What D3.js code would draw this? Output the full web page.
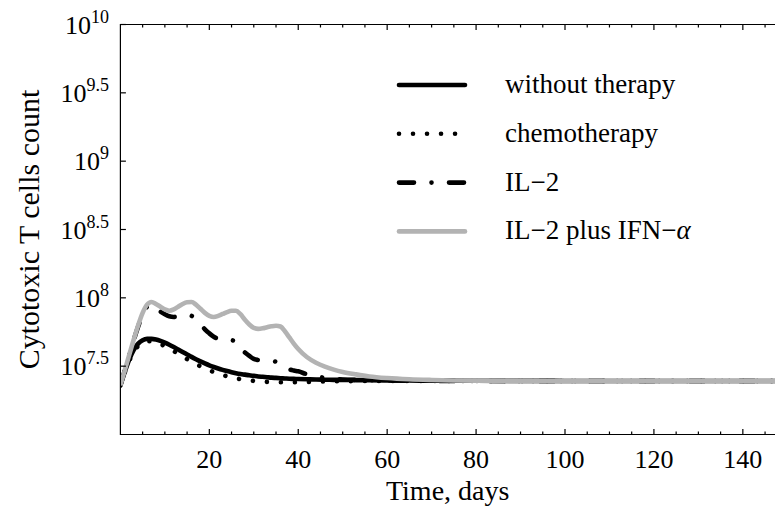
<!DOCTYPE html>
<html>
<head>
<meta charset="utf-8">
<script src="https://cdn.jsdelivr.net/npm/d3@7"></script>
<style>
  html, body { margin: 0; padding: 0; background: #fff; }
  svg { display: block; font-family: "Liberation Serif", "DejaVu Serif", serif; }
</style>
</head>
<body>
<div id="chart"></div>
<script>
// time axis (days) shared by all series
const days = [0,1,2,3,4,5,6,7,8,9,10,11,12,13,14,15,16,17,18,19,20,21,22,23,24,25,26,27,28,29,30,
  31,32,33,34,35,36,37,38,39,40,42,44,46,48,50,53,56,60,65,70,80,100,120,150];

// values are log10 of the cytotoxic T cell count
const withoutTherapy = [7.36,7.46,7.55,7.62,7.665,7.69,7.70,7.70,7.695,7.685,7.672,7.657,7.64,7.622,7.604,7.586,
  7.568,7.551,7.535,7.52,7.506,7.494,7.483,7.473,7.464,7.456,7.449,7.443,7.438,7.433,7.429,
  7.425,7.422,7.419,7.416,7.414,7.412,7.41,7.408,7.407,7.406,7.404,7.402,7.401,7.4,7.399,7.398,7.397,7.396,7.395,7.394,7.393,7.392,7.392,7.392];
const chemotherapy = [7.36,7.455,7.54,7.605,7.648,7.672,7.683,7.683,7.675,7.662,7.646,7.628,7.61,7.59,7.57,7.551,
  7.533,7.515,7.499,7.484,7.47,7.457,7.445,7.435,7.426,7.418,7.411,7.405,7.4,7.396,7.392,
  7.389,7.387,7.385,7.384,7.383,7.382,7.382,7.382,7.382,7.383,7.384,7.386,7.388,7.389,7.39,7.391,7.392,7.392,7.392,7.392,7.392,7.392,7.392,7.392];
const il2 = [7.36,7.47,7.58,7.69,7.79,7.88,7.935,7.95,7.925,7.9,7.88,7.865,7.86,7.865,7.872,7.875,
  7.868,7.84,7.805,7.77,7.74,7.715,7.70,7.695,7.692,7.69,7.68,7.63,7.6,7.575,7.553,
  7.545,7.541,7.539,7.538,7.532,7.515,7.495,7.477,7.468,7.462,7.44,7.425,7.415,7.408,7.403,7.399,7.397,7.395,7.394,7.393,7.392,7.392,7.392,7.392];
const il2IfnAlpha = [7.36,7.47,7.585,7.695,7.80,7.89,7.95,7.97,7.955,7.935,7.915,7.905,7.915,7.935,7.955,7.968,
  7.97,7.95,7.92,7.89,7.868,7.86,7.868,7.882,7.896,7.905,7.906,7.88,7.84,7.805,7.78,
  7.773,7.777,7.785,7.792,7.796,7.79,7.755,7.71,7.665,7.625,7.565,7.525,7.497,7.475,7.458,7.44,7.425,7.413,7.404,7.399,7.394,7.392,7.392,7.392];

const yTickExps = ['7.5', '8', '8.5', '9', '9.5', '10'];
const xTickDays = [20, 40, 60, 80, 100, 120, 140];

const width = 775, height = 512;
const plotLeft = 120.4, plotTop = 24.5, plotBottom = 434.5;

const x = d3.scaleLinear().domain([0, 150]).range([plotLeft, plotLeft + 150 * 4.446]);
const y = d3.scaleLog().domain([1e7, 1e10]).range([plotBottom, plotTop]);

const svg = d3.select('#chart').append('svg')
  .attr('width', width).attr('height', height);

svg.append('clipPath').attr('id', 'plot-clip')
  .append('rect').attr('x', plotLeft).attr('y', plotTop)
  .attr('width', x(150) - plotLeft).attr('height', plotBottom - plotTop);

const series = [
  { name: 'without therapy', values: withoutTherapy, color: '#000', dash: null, cap: 'butt' },
  { name: 'chemotherapy', values: chemotherapy, color: '#000', dash: '0.01 14', cap: 'round' },
  { name: 'IL\u22122', values: il2, color: '#000', dash: '15 17.5 0.01 17.5', cap: 'round' },
  { name: 'IL\u22122 plus IFN\u2212', greek: '\u03b1', values: il2IfnAlpha, color: '#b3b3b3', dash: null, cap: 'butt' }
];

const line = d3.line()
  .x(d => x(d[0]))
  .y(d => y(Math.pow(10, d[1])))
  .curve(d3.curveMonotoneX);

svg.append('g').attr('clip-path', 'url(#plot-clip)')
  .selectAll('path')
  .data(series)
  .enter().append('path')
  .attr('d', s => line(days.map((t, i) => [t, s.values[i]])))
  .attr('fill', 'none')
  .attr('stroke', s => s.color)
  .attr('stroke-width', 4.6)
  .attr('stroke-linecap', s => s.cap)
  .attr('stroke-linejoin', 'round')
  .attr('stroke-dasharray', s => s.dash);

// frame
const frame = svg.append('g').attr('stroke', '#000').attr('stroke-width', 1.2).attr('fill', 'none');
frame.append('path').attr('d', `M${x(150)},${plotTop}H${plotLeft}V${plotBottom}H${x(150)}`);

// x ticks on bottom and top, pointing inside
const minorDays = d3.range(5, 150, 5).filter(d => d % 20 !== 0);
[[plotBottom, -1], [plotTop, 1]].forEach(([yy, dir]) => {
  frame.selectAll(null).data(xTickDays).enter().append('line')
    .attr('x1', d => x(d)).attr('x2', d => x(d))
    .attr('y1', yy).attr('y2', yy + dir * 5.5);
  frame.selectAll(null).data(minorDays).enter().append('line')
    .attr('x1', d => x(d)).attr('x2', d => x(d))
    .attr('y1', yy).attr('y2', yy + dir * 3);
});

// y ticks
frame.selectAll(null).data(yTickExps).enter().append('line')
  .attr('x1', plotLeft).attr('x2', plotLeft + 5.5)
  .attr('y1', d => y(Math.pow(10, +d))).attr('y2', d => y(Math.pow(10, +d)));

svg.append('g').selectAll('text')
  .data(xTickDays)
  .enter().append('text')
  .attr('x', d => x(d)).attr('y', 468)
  .attr('text-anchor', 'middle')
  .attr('font-size', 26)
  .text(d => d);

const yLabels = svg.append('g').selectAll('text')
  .data(yTickExps)
  .enter().append('text')
  .attr('x', 109).attr('y', d => y(Math.pow(10, +d)) + 9)
  .attr('text-anchor', 'end')
  .attr('font-size', 26);
yLabels.append('tspan').text('10');
yLabels.append('tspan').attr('font-size', 18).attr('dy', -11).text(d => d);

svg.append('text')
  .attr('x', (plotLeft + width) / 2).attr('y', 500)
  .attr('text-anchor', 'middle').attr('font-size', 28)
  .text('Time, days');

svg.append('text')
  .attr('transform', `translate(39,${(plotTop + plotBottom) / 2}) rotate(-90)`)
  .attr('text-anchor', 'middle').attr('font-size', 30)
  .text('Cytotoxic T cells count');

// legend
const legend = svg.append('g').selectAll('g')
  .data(series)
  .enter().append('g')
  .attr('transform', (d, i) => `translate(0,${85 + i * 48.8})`);

legend.append('line')
  .attr('x1', 399).attr('x2', 465)
  .attr('stroke', d => d.color)
  .attr('stroke-width', 4.6)
  .attr('stroke-linecap', 'round')
  .attr('stroke-dasharray', d => d.dash);

const legendText = legend.append('text')
  .attr('x', 505).attr('y', 8)
  .attr('font-size', 27)
  .text(d => d.name);
legendText.filter(d => d.greek).append('tspan')
  .attr('font-style', 'italic')
  .text(d => d.greek);
</script>
</body>
</html>
